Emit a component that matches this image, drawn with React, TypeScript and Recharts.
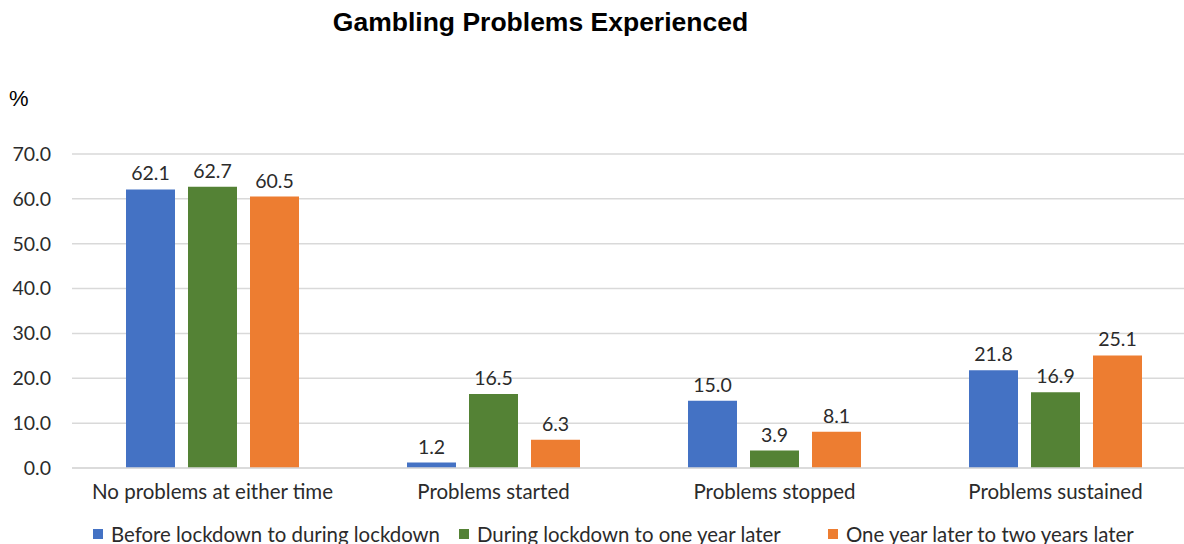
import React from "react";
import { BarChart, Bar, XAxis, YAxis, CartesianGrid, LabelList } from "recharts";

const categories = [
  "No problems at either time",
  "Problems started",
  "Problems stopped",
  "Problems sustained",
];
const seriesNames = [
  "Before lockdown to during lockdown",
  "During lockdown to one year later",
  "One year later to two years later",
];
const beforeToDuring = [62.1, 1.2, 15.0, 21.8];
const duringToOneYear = [62.7, 16.5, 3.9, 16.9];
const oneYearToTwoYears = [60.5, 6.3, 8.1, 25.1];
const yTicks = [0, 10, 20, 30, 40, 50, 60, 70];
const colors = ["#4472C4", "#548235", "#ED7D31"];

const data = categories.map((c, i) => ({
  name: c,
  s0: beforeToDuring[i],
  s1: duringToOneYear[i],
  s2: oneYearToTwoYears[i],
}));

const FONT = "Lato, 'Open Sans', sans-serif";
const TEXT = "#2b2b2b";

export default function App() {
  return (
    <div
      style={{
        position: "absolute",
        left: 0,
        top: 0,
        width: 1184,
        height: 544,
        overflow: "hidden",
        background: "#ffffff",
        fontFamily: FONT,
      }}
    >
      <div
        style={{
          position: "absolute",
          left: 0,
          top: 5,
          width: 1081,
          textAlign: "center",
          fontFamily: "'Liberation Sans', Arial, sans-serif",
          fontWeight: "bold",
          fontSize: 26.5,
          color: "#000",
          lineHeight: "34px",
        }}
      >
        Gambling Problems Experienced
      </div>
      <div
        style={{
          position: "absolute",
          left: 9,
          top: 84,
          fontFamily: "'Liberation Sans', Arial, sans-serif",
          fontSize: 22,
          color: "#000",
          lineHeight: "30px",
        }}
      >
        %
      </div>
      <div style={{ position: "absolute", left: 0, top: 0 }}>
        <BarChart
          width={1196}
          height={544}
          data={data}
          margin={{ top: 154, right: 0, left: 0, bottom: 0 }}
          barSize={49}
          barGap={13}
        >
          <CartesianGrid vertical={false} stroke="#d9d9d9" strokeWidth={1.5} />
          <YAxis
            width={72}
            domain={[0, 70]}
            ticks={yTicks}
            tickFormatter={(v: number) => v.toFixed(1)}
            axisLine={false}
            tickLine={false}
            tickSize={0}
            tickMargin={21}
            tick={{ fill: TEXT, fontSize: 19.5, fontFamily: FONT }}
          />
          <XAxis
            dataKey="name"
            height={76}
            axisLine={{ stroke: "#d9d9d9", strokeWidth: 1.5 }}
            tickLine={false}
            tickSize={0}
            tickMargin={16}
            interval={0}
            tick={{ fill: TEXT, fontSize: 20.5, fontFamily: FONT }}
          />
          {["s0", "s1", "s2"].map((k, i) => (
            <Bar key={k} dataKey={k} name={seriesNames[i]} fill={colors[i]} isAnimationActive={false}>
              <LabelList
                dataKey={k}
                position="top"
                offset={9}
                formatter={(v: number) => v.toFixed(1)}
                style={{ fill: TEXT, fontSize: 19.5, fontFamily: FONT }}
              />
            </Bar>
          ))}
        </BarChart>
      </div>
      {seriesNames.map((n, i) => {
        const lefts = [93, 459, 828];
        return (
          <div
            key={n}
            style={{
              position: "absolute",
              left: lefts[i],
              top: 521,
              display: "flex",
              alignItems: "center",
              whiteSpace: "nowrap",
              fontSize: 20.4,
              color: TEXT,
              lineHeight: "26px",
            }}
          >
            <span
              style={{
                display: "inline-block",
                width: 10,
                height: 10,
                background: colors[i],
                marginRight: 8,
              }}
            />
            {n}
          </div>
        );
      })}
    </div>
  );
}
